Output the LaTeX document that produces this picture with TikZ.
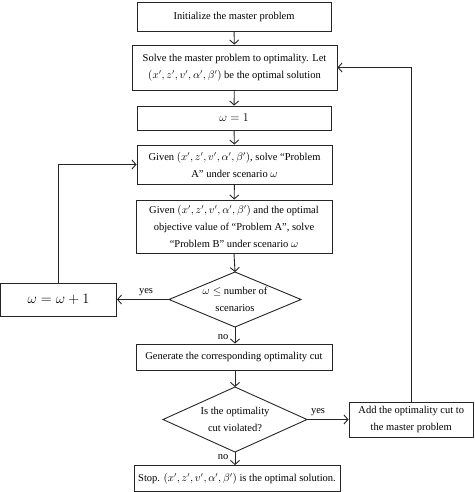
\documentclass[tikz,border=0pt]{standalone}
\usepackage{fontspec}
\setmainfont{Liberation Serif}
\usetikzlibrary{arrows.meta}
\newcommand{\tup}{$(x',z',v',\alpha',\beta')$}
\begin{document}
\begin{tikzpicture}[x=1pt,y=-1pt,
  every node/.style={font=\fontsize{10.5}{17}\selectfont},
  boxnode/.style={draw=black!85, line width=0.9pt, rectangle, inner sep=0pt, align=center},
  txt/.style={inner sep=0pt, align=center},
  conn/.style={draw=black!85, line width=0.9pt, -{Straight Barb[length=4pt,width=9pt,line width=0.9pt]}},
  plain/.style={draw=black!85, line width=0.9pt},
  lbl/.style={inner sep=0pt, font=\fontsize{10.5}{12}\selectfont}]
\useasboundingbox (0,0) rectangle (474,492);
% boxes
\node[boxnode, minimum width=194pt, minimum height=29pt] (b1) at (234,16.5) {Initialize the master problem};
\node[boxnode, minimum width=205pt, minimum height=45pt] (b2) at (234.5,67.5) {Solve the master problem to optimality. Let\\ \tup{} be the optimal solution};
\node[boxnode, minimum width=194pt, minimum height=24pt] (b3) at (234,118) {\fontsize{13}{15}\selectfont$\omega = 1$};
\node[boxnode, minimum width=195pt, minimum height=39pt] (b4) at (234.5,164.5) {Given \tup, solve “Problem\\ A” under scenario $\omega$};
\node[boxnode, minimum width=196pt, minimum height=53pt] (b5) at (234,226.5) {Given \tup{} and the optimal\\ objective value of “Problem A”, solve\\ “Problem B” under scenario $\omega$};
% diamond 1
\node[txt] (d1) at (235,299.5) {$\omega \leq$ number of\\ scenarios};
\coordinate (d1n) at (235,272);
\coordinate (d1s) at (235,327);
\coordinate (d1w) at (169,299.5);
\coordinate (d1e) at (301,299.5);
\draw[plain] (d1n) -- (d1e) -- (d1s) -- (d1w) -- cycle;
\node[boxnode, minimum width=116pt, minimum height=33pt] (inc) at (58.5,299.5) {\fontsize{14}{16}\selectfont$\omega = \omega + 1$};
\node[boxnode, minimum width=196pt, minimum height=26pt] (b6) at (234,357) {Generate the corresponding optimality cut};
% diamond 2
\node[txt] (d2) at (235,419.5) {Is the optimality\\ cut violated?};
\coordinate (d2n) at (235,387);
\coordinate (d2s) at (235,452);
\coordinate (d2w) at (163,419.5);
\coordinate (d2e) at (307,419.5);
\draw[plain] (d2n) -- (d2e) -- (d2s) -- (d2w) -- cycle;
\node[boxnode, minimum width=124.5pt, minimum height=35pt] (add) at (411.25,419.5) {Add the optimality cut to\\ the master problem};
\node[boxnode, minimum width=206pt, minimum height=26pt] (stop) at (237,478.5) {Stop. \tup{} is the optimal solution.};
% connectors
\draw[conn] (b1) -- (b2);
\draw[conn] (b2) -- (b3);
\draw[conn] (b3) -- (b4);
\draw[conn] (b4) -- (b5);
\draw[conn] (b5.south) -- (d1n);
\draw[conn] (d1s) -- (b6.north -| d1s);
\draw[conn] (b6.south -| d2n) -- (d2n);
\draw[conn] (d2s) -- (stop.north -| d2s);
\draw[conn] (d1w) -- (inc.east);
\draw[conn] (d2e) -- (add.west);
\draw[conn] (inc.north) |- (b4.west);
\draw[conn] (add.north) |- (b2.east);
% labels
\node[lbl] (y1) at (146,292) {yes};
\node[lbl] (n1) at (223,337) {no};
\node[lbl] (y2) at (318,412) {yes};
\node[lbl] (n2) at (223,457) {no};
\end{tikzpicture}
\end{document}
